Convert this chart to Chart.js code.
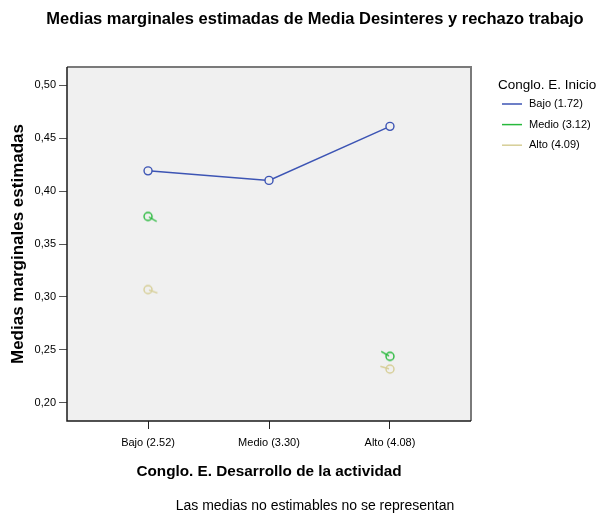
<!DOCTYPE html>
<html>
<head>
<meta charset="utf-8">
<script src="https://cdn.jsdelivr.net/npm/chart.js@4.4.1/dist/chart.umd.min.js"></script>
<style>
  html, body { margin: 0; padding: 0; background: #fff; }
  #wrap { width: 598px; height: 517px; }
</style>
</head>
<body>
<div id="wrap"><canvas id="profileChart" width="598" height="517"></canvas></div>
<script>
const categories = ['Bajo (2.52)', 'Medio (3.30)', 'Alto (4.08)'];
const seriesNames = ['Bajo (1.72)', 'Medio (3.12)', 'Alto (4.09)'];
const bajoValues = [0.419, 0.410, 0.461];
const medioValues = [0.376, null, 0.244];
const altoValues = [0.307, null, 0.232];
const yTicks = [0.20, 0.25, 0.30, 0.35, 0.40, 0.45, 0.50];

const plotBg = '#f0f0f0';
const colors = ['rgb(60, 84, 180)', 'rgb(40, 185, 60)', 'rgb(214, 206, 150)'];

// SPSS leaves a short stub on isolated points, draw it as a marker image
function tailMarker(color, angleDeg, len) {
    const size = 30, c = size / 2, r = 4;
    const cv = document.createElement('canvas');
    cv.width = size; cv.height = size;
    const g = cv.getContext('2d');
    g.strokeStyle = color;
    g.lineWidth = 1.4;
    g.fillStyle = plotBg;
    g.beginPath(); g.arc(c, c, r, 0, Math.PI * 2); g.fill(); g.stroke();
    const a = angleDeg * Math.PI / 180;
    g.beginPath();
    g.moveTo(c + Math.cos(a), c + Math.sin(a));
    g.lineTo(c + Math.cos(a) * len, c + Math.sin(a) * len);
    g.stroke();
    return cv;
}

function toPoints(values) {
    return values.map((v, i) => ({ x: i, y: v }));
}

const frame = {
    id: 'frame',
    beforeDatasetsDraw(chart) {
        const a = chart.chartArea, ctx = chart.ctx;
        ctx.save();
        ctx.fillStyle = plotBg;
        ctx.fillRect(a.left, a.top, a.right - a.left, a.bottom - a.top);
        ctx.restore();
    },
    afterDraw(chart) {
        const a = chart.chartArea, ctx = chart.ctx;
        ctx.save();
        ctx.lineWidth = 2;
        ctx.strokeStyle = '#7a7a7a';
        ctx.beginPath();
        ctx.moveTo(a.left, a.top); ctx.lineTo(a.right, a.top); ctx.lineTo(a.right, a.bottom);
        ctx.stroke();
        ctx.lineWidth = 1.5;
        ctx.strokeStyle = '#1a1a1a';
        ctx.beginPath();
        ctx.moveTo(a.left, a.top); ctx.lineTo(a.left, a.bottom); ctx.lineTo(a.right, a.bottom);
        ctx.stroke();

        // legend
        const lx = a.right + 31;
        ctx.fillStyle = '#000';
        ctx.textBaseline = 'middle';
        ctx.textAlign = 'left';
        ctx.font = '13.5px "Liberation Sans", Arial, sans-serif';
        ctx.fillText('Conglo. E. Inicio', lx - 4, a.top + 18);
        ctx.font = '11px "Liberation Sans", Arial, sans-serif';
        chart.data.datasets.forEach((ds, i) => {
            const y = a.top + 37 + i * 20.6;
            ctx.strokeStyle = ds.borderColor;
            ctx.lineWidth = 1.5;
            ctx.beginPath(); ctx.moveTo(lx, y); ctx.lineTo(lx + 20, y); ctx.stroke();
            ctx.fillText(ds.label, lx + 27, y);
        });
        ctx.restore();
    }
};

Chart.defaults.font.family = '"Liberation Sans", Arial, sans-serif';
Chart.defaults.color = '#000';

const datasetValues = [bajoValues, medioValues, altoValues];
const pointStyles = [
    ['circle', 'circle', 'circle'],
    [tailMarker(colors[1], 30, 10), 'circle', tailMarker(colors[1], 209, 10)],
    [tailMarker(colors[2], 20, 10), 'circle', tailMarker(colors[2], 196, 10)]
];

new Chart(document.getElementById('profileChart'), {
    type: 'line',
    data: {
        datasets: datasetValues.map((vals, i) => ({
            label: seriesNames[i],
            data: toPoints(vals),
            borderColor: colors[i],
            backgroundColor: plotBg,
            borderWidth: 1.5,
            pointStyle: pointStyles[i],
            pointRadius: 4,
            pointBorderWidth: 1.4,
            pointBackgroundColor: plotBg,
            spanGaps: false,
            tension: 0
        }))
    },
    options: {
        responsive: false,
        animation: false,
        layout: { padding: { left: 32, right: 0, top: 0, bottom: 0 } },
        plugins: {
            legend: { display: false },
            tooltip: { enabled: false },
            title: {
                display: true,
                text: 'Medias marginales estimadas de Media Desinteres y rechazo trabajo',
                font: { size: 16.5, weight: 'bold' },
                padding: { top: 10, bottom: 37.2 }
            },
            subtitle: {
                display: true,
                position: 'bottom',
                text: 'Las medias no estimables no se representan',
                font: { size: 14 },
                padding: { top: 3, bottom: 2 }
            }
        },
        scales: {
            x: {
                type: 'linear',
                min: -0.67,
                max: 2.67,
                afterBuildTicks: s => { s.ticks = categories.map((c, i) => ({ value: i })); },
                afterFit: s => { s.height = 74.2; },
                ticks: {
                    callback: v => categories[v],
                    font: { size: 11 },
                    padding: 7,
                    maxRotation: 0
                },
                grid: { drawOnChartArea: false, tickLength: 8, tickColor: '#222' },
                border: { display: false },
                title: {
                    display: true,
                    text: 'Conglo. E. Desarrollo de la actividad',
                    font: { size: 15.3, weight: 'bold' },
                    padding: { top: 0, bottom: 14 }
                }
            },
            y: {
                min: 0.183,
                max: 0.517,
                afterBuildTicks: s => { s.ticks = yTicks.map(v => ({ value: v })); },
                afterFit: s => { s.width = 35; },
                ticks: {
                    callback: v => v.toFixed(2).replace('.', ','),
                    font: { size: 11 },
                    padding: 3
                },
                grid: { drawOnChartArea: false, tickLength: 8, tickColor: '#555' },
                border: { display: false },
                title: {
                    display: true,
                    text: 'Medias marginales estimadas',
                    font: { size: 17, weight: 'bold' },
                    padding: { top: -24.2, bottom: 0 }
                }
            },
            yRight: {
                position: 'right',
                display: true,
                afterFit: s => { s.width = 127; },
                ticks: { display: false },
                grid: { display: false, drawTicks: false },
                border: { display: false }
            }
        }
    },
    plugins: [frame]
});
</script>
</body>
</html>
